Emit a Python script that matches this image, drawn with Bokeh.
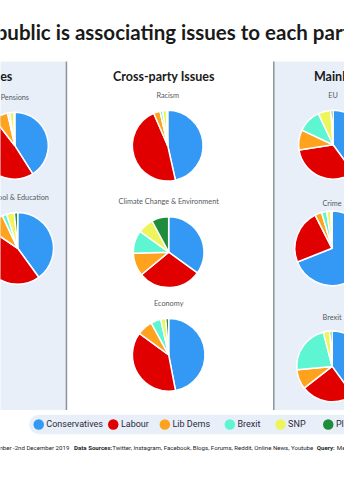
import math
from bokeh.plotting import figure
from bokeh.models import ColumnDataSource, Range1d, BoxAnnotation
from bokeh.core.properties import value
from bokeh.embed import file_html
from bokeh.resources import INLINE

# ---------------- data ----------------
parties = ["Conservatives", "Labour", "Lib Dems", "Brexit", "SNP", "Plaid Cymru"]
party_colors = ["#3399f5", "#e00000", "#ffa31f", "#5ef5d2", "#eef55a", "#1e8c3a"]

issues = ["Pensions", "School & Education", "Racism", "Climate Change & Environment",
          "Economy", "EU", "Crime", "Brexit"]
pensions = [41, 48.5, 7, 1, 2, 0.5]
education = [40, 44.5, 8.5, 2, 3.5, 1.5]
racism = [46.5, 47, 3, 1.2, 1.8, 0.5]
climate = [35, 29, 10.5, 10.5, 7.2, 7.8]
economy = [47, 38, 7, 4.5, 2.2, 1.3]
eu = [40, 32.5, 9.5, 11, 6, 1]
crime = [69, 23.5, 3, 2.2, 1.8, 0.5]
brexit = [40, 24.5, 9, 22.5, 3, 1]
issue_values = [pensions, education, racism, climate, economy, eu, crime, brexit]

sections = ["Mainly Labour Issues", "Cross-party Issues", "Mainly Conservative Issues"]
title_text = "public is associating issues to each party"
footer_date = "November -2nd December 2019"
footer_sources = "Twitter, Instagram, Facebook, Blogs, Forums, Reddit, Online News, Youtube"

# ---------------- layout (reference pixel coordinates) ----------------
H = 500
def Y(py):
    return H - py

p = figure(width=344, height=484, x_range=Range1d(0, 360), y_range=Range1d(0, 500),
           output_backend="svg", toolbar_location=None, min_border=0)
p.axis.visible = False
p.grid.visible = False
p.outline_line_color = None
p.background_fill_color = "white"
p.border_fill_color = "white"

panel_bg = "#e9eff9"
p.add_layout(BoxAnnotation(left=-20, right=69, top=Y(63), bottom=Y(423),
                           fill_color=panel_bg, fill_alpha=1, line_color=None, level="underlay"))
p.add_layout(BoxAnnotation(left=286, right=380, top=Y(63), bottom=Y(423),
                           fill_color=panel_bg, fill_alpha=1, line_color=None, level="underlay"))
p.segment(x0=[69, 286], y0=[Y(63), Y(63)], x1=[69, 286], y1=[Y(423), Y(423)],
          line_color="#8e939b", line_width=1.5)

# title
p.text(x=[-5], y=[Y(33)], text=[title_text], text_font=value("Lato"), text_font_size="20.5px",
       text_font_style="bold", text_color="#1a1a1a", text_baseline="middle", text_align="left")

# section headers
p.text(x=[13, 171, 328], y=[Y(79)] * 3, text=sections, text_font=value("Lato"),
       text_font_size="12.5px", text_font_style="bold", text_color="#1a1a1a",
       text_baseline="middle", text_align=["right", "center", "left"])

# pies
centers = [(15, 150, 35), (18, 256, 37.5), (175, 150, 37), (176, 260, 37),
           (176, 366, 38), (348, 149, 36), (347, 256, 39), (347, 378, 37)]
title_y = [100, 203, 98, 208, 313, 98, 210, 327]

xs, ys, rs, sa, ea, cols = [], [], [], [], [], []
for (cx, cy, r), vals in zip(centers, issue_values):
    tot = sum(vals)
    cum = 0.0
    for v, c in zip(vals, party_colors):
        a = cum / tot
        b = (cum + v) / tot
        cum += v
        xs.append(cx); ys.append(Y(cy)); rs.append(r)
        sa.append(math.pi / 2 - 2 * math.pi * b)
        ea.append(math.pi / 2 - 2 * math.pi * a)
        cols.append(c)
src = ColumnDataSource(dict(x=xs, y=ys, r=rs, sa=sa, ea=ea, c=cols))
p.wedge(x="x", y="y", radius="r", start_angle="sa", end_angle="ea", direction="anticlock",
        fill_color="c", line_color="white", line_width=1.5, source=src)

p.text(x=[c[0] for c in centers], y=[Y(t) for t in title_y], text=issues,
       text_font=value("Lato"), text_font_size="7.3px", text_color="#555a60",
       text_baseline="middle", text_align="center")

# legend pill
p.add_layout(BoxAnnotation(left=30, right=400, top=Y(428), bottom=Y(448), border_radius=10,
                           fill_color=panel_bg, fill_alpha=1, line_color=None, level="underlay"))
leg_x = [40, 118, 172, 240, 293, 343]
p.scatter(x=leg_x, y=[Y(438)] * 6, size=10.5, marker="circle", fill_color=party_colors,
          line_color=None)
p.text(x=[x + 8 for x in leg_x], y=[Y(438)] * 6, text=parties, text_font=value("Roboto"),
       text_font_size="9px", text_color="#2a2a3a", text_baseline="middle", text_align="left")

# footer
fy = Y(462)
p.text(x=[72], y=[fy], text=[footer_date], text_font=value("Roboto"), text_font_size="6.1px",
       text_color="#222", text_baseline="middle", text_align="right")
p.text(x=[77, 331], y=[fy, fy], text=["Data Sources:", "Query:"], text_font=value("Roboto"),
       text_font_size="6.1px", text_font_style="bold", text_color="#222",
       text_baseline="middle", text_align="left")
p.text(x=[117, 352], y=[fy, fy], text=[footer_sources, "Mentions"], text_font=value("Roboto"),
       text_font_size="6.1px", text_color="#222", text_baseline="middle", text_align="left")

open("out.html", "w").write(file_html(p, INLINE))
